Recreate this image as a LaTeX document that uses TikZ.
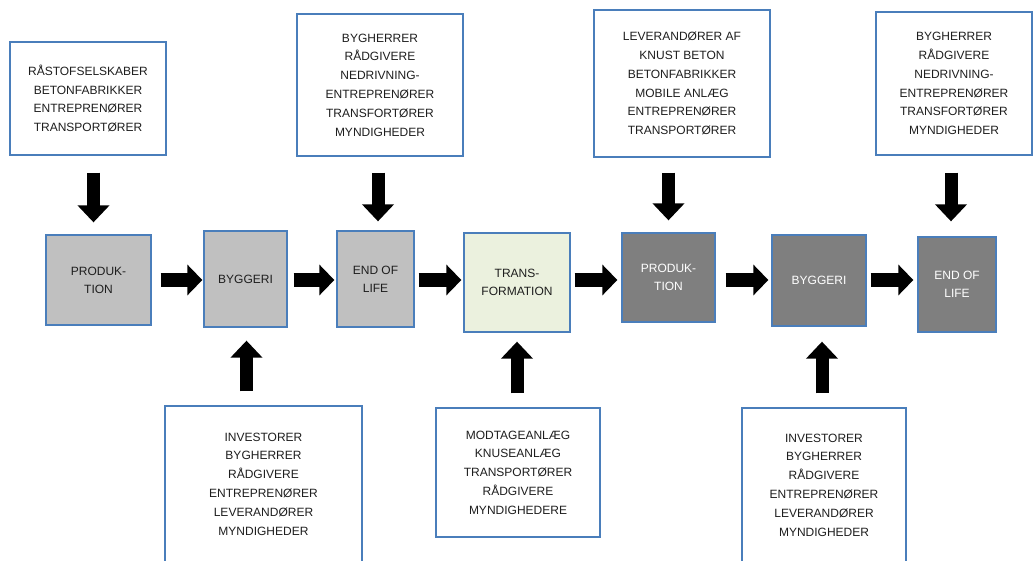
\documentclass[tikz,border=0pt]{standalone}
\usepackage{fontspec}
\setmainfont{Liberation Sans}
\usetikzlibrary{arrows.meta,calc}
\definecolor{boxedge}{HTML}{4A7EBB}
\definecolor{lightgrey}{HTML}{C0C0C0}
\definecolor{darkgrey}{HTML}{7F7F7F}
\definecolor{palegreen}{HTML}{EBF1DE}
\definecolor{txt}{HTML}{1E1E1E}
\tikzset{
  actorbox/.style={draw=boxedge, line width=1.3pt, fill=white, text=txt,
    align=center, inner sep=0pt, font=\fontsize{12}{18.8}\selectfont},
  phasebox/.style={draw=boxedge, line width=1.3pt, text=txt,
    align=center, inner sep=0pt, font=\fontsize{12}{18}\selectfont},
  oldphase/.style={phasebox, fill=lightgrey},
  newphase/.style={phasebox, fill=darkgrey, text=white},
  transbox/.style={phasebox, fill=palegreen},
  harrow/.style={line width=14pt, black, -{Triangle[length=15pt,width=30pt]}},
  varrow/.style={line width=13pt, black, -{Triangle[length=17pt,width=31pt]}}
}
\begin{document}
\begin{tikzpicture}[x=1pt,y=-1pt]
\useasboundingbox (0,0) rectangle (1033,560);
\clip (0,0) rectangle (1033,560);
\fill[white] (0,0) rectangle (1033,560);

% actor boxes above the chain
\node[actorbox, minimum width=156pt, minimum height=113pt] (T1) at (88,98.5)
  {RÅSTOFSELSKABER\\BETONFABRIKKER\\ENTREPRENØRER\\TRANSPORTØRER};
\node[actorbox, minimum width=166pt, minimum height=142pt] (T2) at (380,85)
  {BYGHERRER\\RÅDGIVERE\\NEDRIVNING-\\ENTREPRENØRER\\TRANSFORTØRER\\MYNDIGHEDER};
\node[actorbox, minimum width=176pt, minimum height=147pt] (T3) at (682,83.5)
  {LEVERANDØRER AF\\KNUST BETON\\BETONFABRIKKER\\MOBILE ANLÆG\\ENTREPRENØRER\\TRANSPORTØRER};
\node[actorbox, minimum width=156pt, minimum height=143pt] (T4) at (954,83.5)
  {BYGHERRER\\RÅDGIVERE\\NEDRIVNING-\\ENTREPRENØRER\\TRANSFORTØRER\\MYNDIGHEDER};

% life-cycle phases
\node[oldphase, minimum width=105pt, minimum height=90pt] (M1) at (98.5,280) {PRODUK-\\TION};
\node[oldphase, minimum width=83pt, minimum height=96pt] (M2) at (245.5,279) {BYGGERI};
\node[oldphase, minimum width=77pt, minimum height=96pt] (M3) at (375.5,279) {END OF\\LIFE};
\node[transbox, minimum width=106pt, minimum height=99pt] (M4) at (517,282.5) {TRANS-\\FORMATION};
\node[newphase, minimum width=93pt, minimum height=89pt] (M5) at (668.5,277.5) {PRODUK-\\TION};
\node[newphase, minimum width=94pt, minimum height=91pt] (M6) at (819,280.5) {BYGGERI};
\node[newphase, minimum width=78pt, minimum height=95pt] (M7) at (957,284.5) {END OF\\LIFE};

% actor boxes below the chain
\node[actorbox, minimum width=197pt, minimum height=156pt] (B1) at (263.5,484)
  {INVESTORER\\BYGHERRER\\RÅDGIVERE\\ENTREPRENØRER\\LEVERANDØRER\\MYNDIGHEDER};
\node[actorbox, minimum width=164pt, minimum height=129pt] (B2) at (518,472.5)
  {MODTAGEANLÆG\\KNUSEANLÆG\\TRANSPORTØRER\\RÅDGIVERE\\MYNDIGHEDERE};
\node[actorbox, minimum width=164pt, minimum height=154pt] (B3) at (824,485)
  {INVESTORER\\BYGHERRER\\RÅDGIVERE\\ENTREPRENØRER\\LEVERANDØRER\\MYNDIGHEDER};

% flow along the chain
\coordinate (ax) at (0,280);
\draw[harrow, shorten <=9pt, shorten >=1pt] (M1.east |- ax) -- (M2.west |- ax);
\draw[harrow, shorten <=6pt, shorten >=2pt] (M2.east |- ax) -- (M3.west |- ax);
\draw[harrow, shorten <=4pt, shorten >=2pt] (M3.east |- ax) -- (M4.west |- ax);
\draw[harrow, shorten <=4pt, shorten >=4pt] (M4.east |- ax) -- (M5.west |- ax);
\draw[harrow, shorten <=10pt, shorten >=3pt] (M5.east |- ax) -- (M6.west |- ax);
\draw[harrow, shorten <=4pt, shorten >=4pt] (M6.east |- ax) -- (M7.west |- ax);

% actors feeding into the phases from above
\draw[varrow, shorten <=17pt, shorten >=12pt] ($(M1.north |- T1.south)+(-5,0)$) -- ($(M1.north)+(-5,0)$);
\draw[varrow, shorten <=16pt, shorten >=9pt] ($(M3.north |- T2.south)+(2.5,0)$) -- ($(M3.north)+(2.5,0)$);
\draw[varrow, shorten <=15pt, shorten >=12pt] (M5.north |- T3.south) -- (M5.north);
\draw[varrow, shorten <=17pt, shorten >=15pt] ($(M7.north |- T4.south)+(-6,0)$) -- ($(M7.north)+(-6,0)$);

% actors feeding into the phases from below
\draw[varrow, shorten <=14pt, shorten >=13pt] ($(M2.south |- B1.north)+(1,0)$) -- ($(M2.south)+(1,0)$);
\draw[varrow, shorten <=14pt, shorten >=9pt] (M4.south |- B2.north) -- (M4.south);
\draw[varrow, shorten <=14pt, shorten >=15pt] ($(M6.south |- B3.north)+(3,0)$) -- ($(M6.south)+(3,0)$);
\end{tikzpicture}
\end{document}
